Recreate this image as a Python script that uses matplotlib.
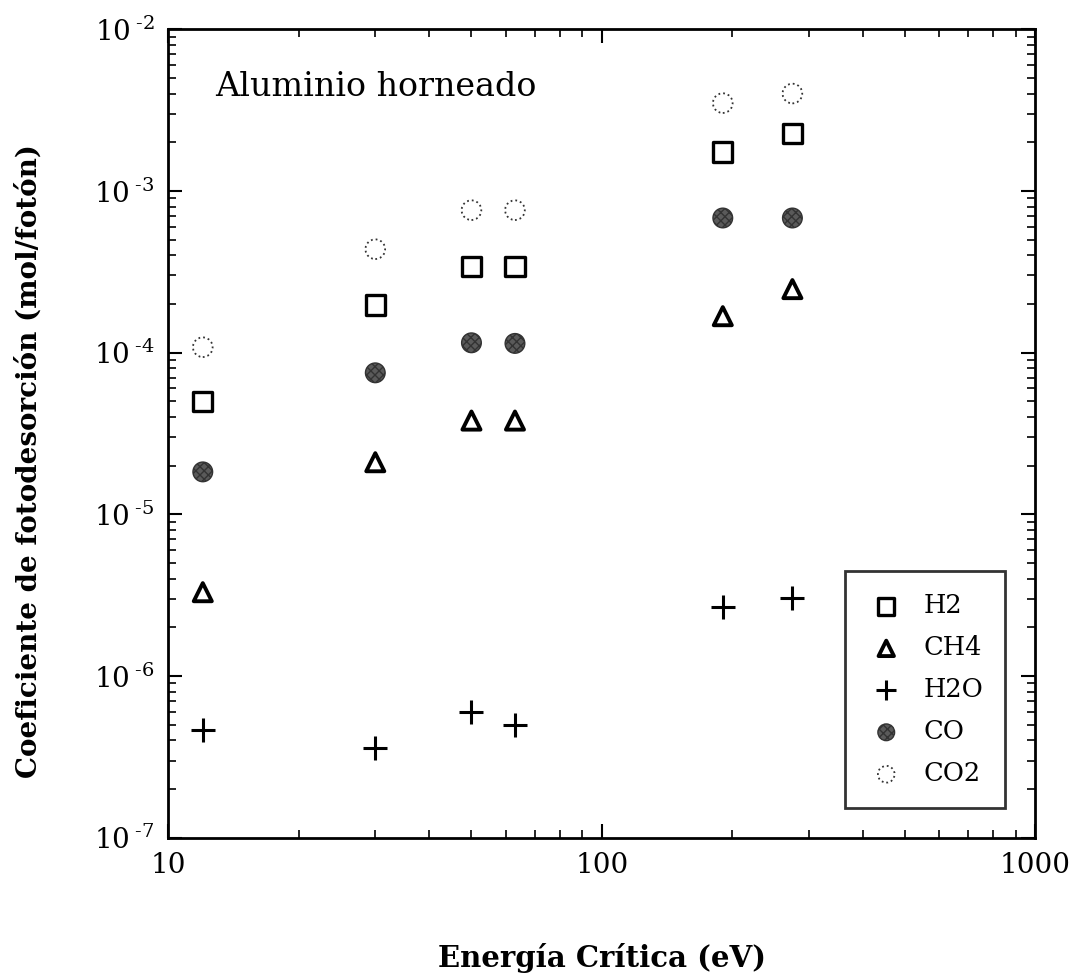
import math
import matplotlib
matplotlib.use("Agg")
import matplotlib.pyplot as plt
from matplotlib.ticker import FixedLocator, FuncFormatter, LogLocator, NullFormatter

plt.rcParams["font.family"] = ["DejaVu Serif"]
plt.rcParams["mathtext.fontset"] = "dejavuserif"
plt.rcParams["mathtext.default"] = "regular"

# critical energy (eV) of each measurement
energia = [12, 30, 50, 63, 190, 275]

# photodesorption coefficients (mol/photon)
h2 = [5.0e-5, 1.97e-4, 3.4e-4, 3.4e-4, 1.74e-3, 2.27e-3]
ch4 = [3.3e-6, 2.1e-5, 3.8e-5, 3.8e-5, 1.68e-4, 2.47e-4]
h2o = [4.65e-7, 3.6e-7, 6.0e-7, 5.0e-7, 2.68e-6, 3.04e-6]
co = [1.83e-5, 7.5e-5, 1.15e-4, 1.14e-4, 6.8e-4, 6.8e-4]
co2 = [1.08e-4, 4.36e-4, 7.6e-4, 7.6e-4, 3.49e-3, 4.0e-3]

fig = plt.figure(figsize=(10.73, 9.73), dpi=100)
ax = fig.add_axes([0.157, 0.139, 0.808, 0.831])

ax.scatter(energia, h2, marker="s", s=190, facecolors="none", edgecolors="k",
           linewidths=2.4, label="H2", zorder=3)
ax.scatter(energia, ch4, marker="^", s=170, facecolors="none", edgecolors="k",
           linewidths=2.8, label="CH4", zorder=3)
ax.scatter(energia, h2o, marker="+", s=300, c="k", linewidths=2.2,
           label="H2O", zorder=3)
ax.scatter(energia, co, marker="o", s=200, facecolors="#5a5a5a", edgecolors="#333333",
           linewidths=1.0, hatch="xxxx", label="CO", zorder=3)
ax.scatter(energia, co2, marker="o", s=200, facecolors="none", edgecolors="#333333",
           linewidths=1.3, linestyle=":", label="CO2", zorder=3)

ax.set_xscale("log")
ax.set_yscale("log")
ax.set_xlim(10, 1000)
ax.set_ylim(1e-7, 1e-2)

ax.xaxis.set_major_locator(FixedLocator([10, 100, 1000]))
ax.xaxis.set_major_formatter(FuncFormatter(lambda v, p: f"{v:g}"))
ax.yaxis.set_major_locator(LogLocator(base=10, numticks=10))
ax.yaxis.set_major_formatter(
    FuncFormatter(lambda v, p: r"$10^{\;\text{-}%d}$" % abs(round(math.log10(v)))))
for axis in (ax.xaxis, ax.yaxis):
    axis.set_minor_locator(LogLocator(base=10, subs=range(2, 10), numticks=20))
    axis.set_minor_formatter(NullFormatter())

ax.tick_params(which="both", direction="in", top=True, right=True, labelsize=20)
ax.tick_params(which="major", length=10, width=1.5, pad=10)
ax.tick_params(which="minor", length=6, width=1.2)
for sp in ax.spines.values():
    sp.set_linewidth(2.0)

ax.set_xlabel("Energía Crítica (eV)", fontsize=21, fontweight="bold")
ax.xaxis.set_label_coords(0.5, -0.13)
ax.set_ylabel("Coeficiente de fotodesorción (mol/fotón)", fontsize=20,
              fontweight="bold")
ax.yaxis.set_label_coords(-0.145, 0.466)

ax.text(0.054, 0.948, "Aluminio horneado", transform=ax.transAxes,
        fontsize=24, va="top", ha="left")

leg = ax.legend(loc="lower right", bbox_to_anchor=(0.965, 0.037), fontsize=18.5,
                frameon=True, fancybox=False, borderpad=0.85, labelspacing=0.66,
                handlelength=1.5, handletextpad=0.7, scatterpoints=1,
                markerscale=0.85, borderaxespad=0)
leg.get_frame().set_edgecolor("k")
leg.get_frame().set_linewidth(2.0)

fig.savefig("out.png", dpi=100)
